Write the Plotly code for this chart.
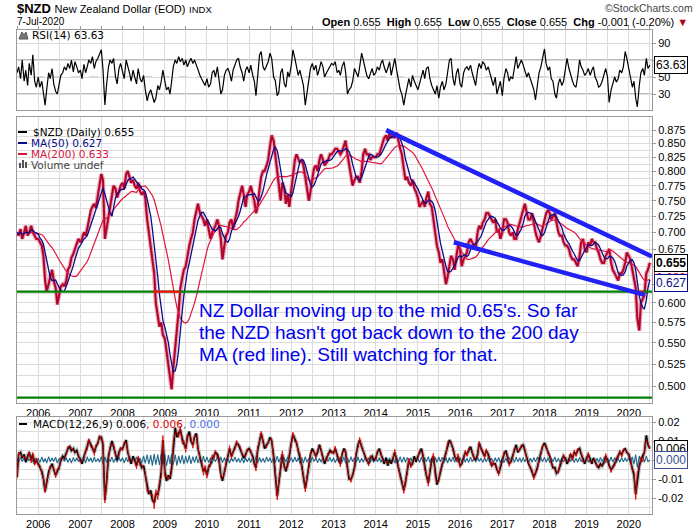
import numpy as np
import pandas as pd
import plotly.graph_objects as go

W, H = 700, 530

# ---------------- DATA (semi-monthly readings: 1st & 15th, Jul-2005 .. Jul-2020) ----------------
price_2005 = [0.700, 0.695, 0.705, 0.690, 0.700, 0.710, 0.695, 0.700, 0.710, 0.700, 0.695, 0.690]
price_2006 = [0.690, 0.685, 0.680, 0.665, 0.630, 0.615, 0.625, 0.635, 0.645, 0.630, 0.620, 0.598,
              0.612, 0.622, 0.625, 0.622, 0.630, 0.645, 0.650, 0.662, 0.668, 0.675, 0.685, 0.690]
price_2007 = [0.685, 0.690, 0.700, 0.695, 0.705, 0.720, 0.735, 0.740, 0.745, 0.738, 0.760, 0.775,
              0.795, 0.785, 0.690, 0.705, 0.725, 0.745, 0.760, 0.775, 0.770, 0.755, 0.765, 0.775]
price_2008 = [0.780, 0.770, 0.795, 0.800, 0.790, 0.780, 0.785, 0.775, 0.770, 0.780, 0.765, 0.760,
              0.765, 0.755, 0.720, 0.700, 0.685, 0.665, 0.640, 0.600, 0.585, 0.570, 0.575, 0.560]
price_2009 = [0.555, 0.540, 0.520, 0.505, 0.497, 0.520, 0.545, 0.560, 0.590, 0.620, 0.635, 0.645,
              0.650, 0.665, 0.680, 0.690, 0.700, 0.720, 0.735, 0.745, 0.730, 0.725, 0.720, 0.710]
price_2010 = [0.720, 0.705, 0.690, 0.700, 0.705, 0.710, 0.720, 0.710, 0.690, 0.660, 0.680, 0.695,
              0.700, 0.715, 0.720, 0.705, 0.720, 0.730, 0.750, 0.760, 0.775, 0.760, 0.740, 0.760]
price_2011 = [0.765, 0.775, 0.760, 0.750, 0.730, 0.740, 0.770, 0.790, 0.800, 0.800, 0.810, 0.820,
              0.845, 0.865, 0.855, 0.830, 0.790, 0.770, 0.750, 0.780, 0.770, 0.745, 0.760, 0.740]
price_2012 = [0.770, 0.800, 0.820, 0.830, 0.820, 0.815, 0.820, 0.810, 0.790, 0.770, 0.750, 0.765,
              0.790, 0.805, 0.810, 0.800, 0.820, 0.830, 0.820, 0.810, 0.815, 0.820, 0.830, 0.830]
price_2013 = [0.835, 0.840, 0.840, 0.835, 0.830, 0.835, 0.845, 0.855, 0.830, 0.810, 0.790, 0.775,
              0.785, 0.790, 0.790, 0.780, 0.800, 0.830, 0.840, 0.830, 0.830, 0.820, 0.825, 0.825]
price_2014 = [0.825, 0.830, 0.830, 0.840, 0.850, 0.860, 0.865, 0.855, 0.870, 0.860, 0.865, 0.860,
              0.870, 0.855, 0.840, 0.830, 0.800, 0.785, 0.790, 0.780, 0.775, 0.785, 0.770, 0.765]
price_2015 = [0.755, 0.740, 0.745, 0.750, 0.740, 0.755, 0.765, 0.745, 0.740, 0.720, 0.695, 0.680,
              0.670, 0.655, 0.660, 0.640, 0.625, 0.635, 0.650, 0.665, 0.660, 0.645, 0.665, 0.680]
price_2016 = [0.675, 0.650, 0.660, 0.665, 0.670, 0.685, 0.690, 0.685, 0.680, 0.675, 0.700, 0.710,
              0.705, 0.715, 0.720, 0.730, 0.730, 0.725, 0.720, 0.715, 0.720, 0.700, 0.705, 0.690]
price_2017 = [0.700, 0.720, 0.720, 0.715, 0.700, 0.695, 0.700, 0.690, 0.690, 0.705, 0.715, 0.725,
              0.735, 0.745, 0.730, 0.720, 0.720, 0.730, 0.715, 0.700, 0.690, 0.685, 0.695, 0.705]
price_2018 = [0.720, 0.730, 0.735, 0.730, 0.720, 0.725, 0.730, 0.715, 0.700, 0.695, 0.695, 0.685,
              0.680, 0.680, 0.675, 0.665, 0.660, 0.660, 0.655, 0.650, 0.665, 0.685, 0.690, 0.675]
price_2019 = [0.670, 0.685, 0.680, 0.690, 0.685, 0.685, 0.675, 0.670, 0.660, 0.655, 0.655, 0.665,
              0.670, 0.675, 0.655, 0.645, 0.640, 0.635, 0.630, 0.640, 0.640, 0.645, 0.655, 0.670]
price_2020 = [0.665, 0.660, 0.645, 0.635, 0.620, 0.580, 0.565, 0.600, 0.605, 0.610, 0.640, 0.645, 0.655]

rsi_2005 = [55, 62, 48, 70, 45, 58, 40, 66, 52, 76, 45, 38]
rsi_2006 = [50, 38, 45, 30, 17, 35, 55, 48, 60, 42, 33, 30, 45, 52, 55, 62, 58, 66, 60, 70, 56, 68, 62, 55]
rsi_2007 = [58, 48, 65, 55, 62, 70, 66, 74, 60, 68, 72, 78, 82, 60, 17, 40, 62, 70, 66, 72, 50, 42, 60, 66]
rsi_2008 = [55, 48, 70, 64, 55, 45, 58, 50, 42, 60, 48, 44, 52, 36, 22, 30, 35, 28, 20, 25, 40, 35, 45, 58]
rsi_2009 = [42, 35, 38, 30, 45, 62, 70, 66, 74, 68, 72, 64, 70, 62, 68, 72, 66, 70, 64, 58, 52, 48, 44, 40]
rsi_2010 = [48, 38, 42, 55, 58, 50, 62, 45, 30, 35, 52, 58, 60, 55, 45, 58, 64, 70, 72, 62, 55, 45, 58, 62]
rsi_2011 = [55, 64, 52, 45, 28, 48, 76, 80, 62, 58, 65, 68, 78, 72, 50, 46, 28, 32, 55, 60, 42, 38, 56, 50]
rsi_2012 = [64, 82, 72, 64, 52, 58, 48, 40, 17, 32, 45, 60, 66, 58, 64, 52, 60, 68, 62, 50, 55, 58, 62, 66]
rsi_2013 = [64, 68, 55, 58, 52, 62, 68, 56, 30, 35, 38, 45, 60, 55, 50, 62, 78, 70, 58, 52, 48, 55, 60, 52]
rsi_2014 = [55, 62, 58, 66, 70, 62, 55, 60, 68, 52, 64, 72, 58, 45, 35, 30, 17, 28, 40, 48, 38, 52, 45, 40]
rsi_2015 = [35, 42, 52, 58, 48, 60, 62, 48, 40, 35, 30, 40, 25, 38, 45, 35, 42, 55, 70, 72, 48, 40, 55, 60]
rsi_2016 = [42, 38, 55, 60, 62, 58, 64, 55, 45, 40, 58, 66, 60, 68, 65, 58, 62, 55, 45, 40, 50, 30, 38, 45]
rsi_2017 = [28, 48, 60, 55, 45, 50, 48, 62, 74, 60, 66, 70, 64, 58, 50, 55, 48, 40, 35, 23, 42, 55, 62, 70]
rsi_2018 = [83, 66, 58, 62, 48, 45, 30, 25, 42, 48, 40, 45, 58, 72, 60, 52, 45, 40, 38, 50, 70, 62, 58, 52]
rsi_2019 = [55, 60, 52, 58, 62, 50, 45, 38, 40, 45, 55, 60, 50, 20, 35, 42, 50, 44, 48, 58, 55, 62, 80, 72]
rsi_2020 = [62, 50, 38, 45, 25, 15, 40, 55, 60, 52, 72, 60, 64]

macd_2005 = [-0.009, 0.003, 0.004, 0.001, 0.003, -0.001, 0.002, 0.004, 0.000, 0.003, -0.002, 0.000]
macd_2006 = [-0.002, -0.004, -0.006, -0.010, -0.0165, -0.012, -0.006, -0.004, -0.002, -0.005, -0.008, -0.006,
             -0.004, 0.000, 0.002, 0.001, 0.004, 0.006, 0.007, 0.005, 0.006, 0.004, 0.005, 0.002]
macd_2007 = [0.000, -0.002, 0.002, 0.004, 0.007, 0.0105, 0.008, 0.006, 0.004, 0.007, 0.009, 0.012,
             0.012, 0.008, -0.021, -0.012, 0.002, 0.006, 0.010, 0.007, 0.003, 0.000, 0.004, 0.006]
macd_2008 = [0.006, 0.008, 0.0105, 0.004, 0.001, -0.002, 0.002, -0.001, -0.003, 0.001, -0.002, -0.004,
             -0.003, -0.008, -0.014, -0.018, -0.016, -0.021, -0.0225, -0.018, -0.018, -0.014, -0.006, 0.0105]
macd_2009 = [-0.006, -0.011, -0.008, -0.010, -0.004, 0.008, 0.017, 0.012, 0.014, 0.016, 0.011, 0.008,
             0.006, 0.012, 0.015, 0.010, 0.008, 0.012, 0.014, 0.006, 0.002, -0.002, -0.006, -0.004]
macd_2010 = [-0.008, -0.004, -0.002, 0.001, 0.002, 0.004, 0.003, 0.000, -0.008, -0.011, -0.006, -0.002,
             0.003, 0.006, 0.002, 0.004, 0.007, 0.009, 0.008, 0.006, 0.004, 0.001, 0.003, 0.005]
macd_2011 = [0.006, 0.004, 0.002, -0.002, -0.004, 0.005, 0.011, 0.014, 0.010, 0.006, 0.008, 0.009,
             0.012, 0.010, 0.002, -0.006, -0.019, -0.012, -0.004, 0.003, -0.003, -0.006, -0.002, 0.002]
macd_2012 = [0.009, 0.0135, 0.011, 0.009, 0.005, 0.002, -0.003, -0.009, -0.015, -0.010, -0.003, 0.003,
             0.006, 0.004, 0.002, 0.004, 0.008, 0.005, 0.001, -0.002, 0.001, 0.003, 0.005, 0.004]
macd_2013 = [0.004, 0.006, 0.002, 0.000, -0.002, 0.003, 0.006, 0.004, -0.004, -0.010, -0.010, -0.008,
             -0.004, 0.003, 0.008, 0.0105, 0.007, 0.004, 0.002, 0.000, -0.002, 0.001, 0.002, 0.000]
macd_2014 = [0.001, 0.004, 0.006, 0.003, 0.001, -0.002, 0.001, -0.003, 0.000, -0.002, 0.002, 0.004,
             0.000, -0.004, -0.008, -0.012, -0.016, -0.012, -0.006, 0.000, -0.003, -0.002, 0.002, -0.001]
macd_2015 = [0.002, 0.004, 0.006, 0.002, -0.004, -0.008, -0.012, -0.006, 0.000, 0.002, -0.008, -0.013,
             -0.010, -0.006, -0.002, 0.000, 0.004, 0.008, 0.0105, 0.009, 0.006, 0.002, 0.000, 0.002]
macd_2016 = [-0.003, -0.002, 0.002, 0.004, 0.003, 0.005, 0.007, 0.004, 0.001, 0.000, 0.003, 0.009,
             0.006, 0.004, 0.002, 0.005, 0.003, 0.000, -0.003, -0.002, -0.002, -0.005, -0.007, -0.004]
macd_2017 = [0.000, 0.003, 0.005, 0.002, -0.002, -0.001, 0.002, 0.005, 0.008, 0.004, 0.006, 0.007,
             0.008, 0.005, 0.001, -0.002, -0.004, -0.006, -0.009, -0.007, -0.004, 0.000, 0.004, 0.007]
macd_2018 = [0.009, 0.007, 0.004, 0.002, -0.001, -0.004, -0.004, -0.007, -0.006, -0.003, 0.000, 0.002,
             0.001, -0.002, 0.000, 0.003, 0.001, 0.004, 0.003, 0.005, 0.006, 0.003, 0.000, -0.002]
macd_2019 = [0.001, 0.003, 0.000, -0.002, 0.001, -0.001, -0.003, -0.004, -0.002, -0.003, -0.001, 0.002,
             0.000, -0.003, -0.005, -0.004, -0.002, 0.000, 0.002, 0.004, 0.003, 0.005, 0.006, 0.004]
macd_2020 = [0.003, 0.000, -0.004, -0.008, -0.018, -0.010, -0.003, 0.000, 0.002, 0.004, 0.013, 0.008, 0.006]

# MACD histogram readings, in units of 0.0001
hist_2005 = [8, -12, 14, -8, 10, -14, 12, -6, 16, -10, 8, -12]
hist_2006 = [10, -14, 16, -12, 8, -16, 18, -10, 12, -8, 14, -16, 10, -12, 16, -8, 12, -14, 10, -16, 14, -8, 12, -10]
hist_2007 = [14, -12, 10, -16, 18, -8, 12, -14, 16, -10, 8, -12, 18, -22, 16, -12, 14, -10, 16, -14, 10, -12, 18, -8]
hist_2008 = [12, -16, 14, -10, 18, -14, 12, -8, 16, -12, 10, -18, 22, -18, 28, -22, 26, -30, 32, -24, 28, -26, 32, -24]
hist_2009 = [30, -32, 26, -20, 32, -24, 28, -30, 22, -18, 26, -22, 20, -16, 24, -20, 18, -14, 22, -16, 14, -18, 20, -12]
hist_2010 = [16, -14, 12, -18, 14, -10, 18, -12, 16, -14, 12, -10, 14, -16, 12, -8, 16, -12, 10, -14, 12, -16, 14, -10]
hist_2011 = [12, -14, 16, -10, 18, -16, 14, -12, 10, -14, 16, -8, 12, -14, 18, -16, 20, -12, 14, -18, 12, -10, 16, -14]
hist_2012 = [14, -12, 16, -10, 12, -18, 14, -16, 18, -12, 10, -14, 16, -8, 12, -14, 10, -12, 14, -16, 12, -8, 14, -10]
hist_2013 = [12, -14, 10, -12, 16, -10, 14, -16, 12, -14, 18, -10, 14, -12, 16, -14, 10, -12, 14, -8, 12, -14, 10, -12]
hist_2014 = [14, -10, 12, -14, 10, -12, 16, -8, 12, -14, 10, -16, 14, -12, 18, -14, 16, -12, 14, -10, 12, -14, 16, -10]
hist_2015 = [12, -14, 16, -12, 14, -10, 18, -14, 12, -16, 14, -12, 16, -10, 14, -12, 12, -16, 14, -10, 16, -12, 10, -14]
hist_2016 = [12, -10, 14, -12, 10, -14, 16, -10, 12, -12, 14, -8, 10, -14, 12, -10, 14, -12, 10, -14, 12, -10, 14, -16]
hist_2017 = [12, -14, 10, -12, 14, -10, 12, -14, 16, -10, 12, -12, 14, -10, 12, -14, 10, -12, 14, -10, 16, -12, 12, -10]
hist_2018 = [14, -12, 10, -14, 12, -10, 16, -12, 10, -14, 12, -10, 14, -12, 10, -8, 12, -14, 10, -12, 14, -10, 12, -14]
hist_2019 = [10, -12, 14, -10, 12, -14, 10, -12, 14, -8, 12, -14, 10, -12, 16, -10, 12, -14, 10, -12, 14, -10, 12, -8]
hist_2020 = [14, -12, 16, -22, 28, -40, 22, -16, 30, -12, 22, -10, 0]

# user-drawn annotation lines on the price panel
support_level = 0.615
floor_level = 0.488
breach_starts = ['2008-09-20', '2020-02-25']
breach_ends = ['2009-05-10', '2020-05-05']
trend_upper_dates = ['2014-04-01', '2020-07-20']
trend_upper_vals = [0.875, 0.664]
trend_lower_dates = ['2015-11-08', '2020-05-18']
trend_lower_vals = [0.685, 0.6106]

price_ticks = [0.500, 0.525, 0.550, 0.575, 0.600, 0.625, 0.650, 0.675, 0.700,
               0.725, 0.750, 0.775, 0.800, 0.825, 0.850, 0.875]
price_ticks_hidden = [0.625, 0.650]
rsi_ticks = [30, 50, 70, 90]
macd_ticks = [-0.02, -0.01, 0.0, 0.01, 0.02]
macd_tick_text = ['-0.02', '-0.01', '', '0.01', '0.02']

symbol, sym_name, exch, date_label = '$NZD', 'New Zealand Dollar (EOD)', 'INDX', '7-Jul-2020'
quote_open, quote_high, quote_low, quote_close = '0.655', '0.655', '0.655', '0.655'
quote_chg = '-0.001 (-0.20%)'
last_close, ma50_last, ma200_last = 0.655, 0.627, 0.633
rsi_last = 63.63
macd_last, signal_last, hist_last = 0.006, 0.006, 0.000

note_lines = ["NZ Dollar moving up to the mid 0.65's. So far",
              "the NZD hasn't got back down to the 200 day",
              "MA (red line). Still watching for that."]

# ---------------- assemble ----------------
def cat(*segs):
    out = []
    for s in segs:
        out += s
    return out

price = cat(price_2005, price_2006, price_2007, price_2008, price_2009, price_2010, price_2011, price_2012,
            price_2013, price_2014, price_2015, price_2016, price_2017, price_2018, price_2019, price_2020)
rsi = cat(rsi_2005, rsi_2006, rsi_2007, rsi_2008, rsi_2009, rsi_2010, rsi_2011, rsi_2012,
          rsi_2013, rsi_2014, rsi_2015, rsi_2016, rsi_2017, rsi_2018, rsi_2019, rsi_2020)
macd = cat(macd_2005, macd_2006, macd_2007, macd_2008, macd_2009, macd_2010, macd_2011, macd_2012,
           macd_2013, macd_2014, macd_2015, macd_2016, macd_2017, macd_2018, macd_2019, macd_2020)
hist_e4 = cat(hist_2005, hist_2006, hist_2007, hist_2008, hist_2009, hist_2010, hist_2011, hist_2012,
              hist_2013, hist_2014, hist_2015, hist_2016, hist_2017, hist_2018, hist_2019, hist_2020)
n = len(price)
assert len(rsi) == n and len(macd) == n and len(hist_e4) == n, (n, len(rsi), len(macd), len(hist_e4))

dates = pd.date_range('2005-07-01', periods=n, freq='SMS')
ps = pd.Series(price)
ma50 = ps.rolling(5, min_periods=1).mean()     # ~50 trading days
ma200 = ps.rolling(19, min_periods=1).mean()   # ~200 trading days
hist = np.array(hist_e4) / 1e4
macd = np.array(macd)
signal = macd - hist

X0, X1 = '2005-07-01', '2020-07-20'
XD = [17 / W, 652 / W]


def ydom(top, bottom):
    return [1 - bottom / H, 1 - top / H]


GRID = '#dcdcdc'
BORDER = '#9a9a9a'
AXF = 'Liberation Sans, Arial, sans-serif'
HEADF = 'Liberation Sans, Arial, sans-serif'
LEGF = 'DejaVu Sans, Verdana, sans-serif'
tickfont = dict(family=AXF, size=11, color='black')

fig = go.Figure()

# RSI panel
fig.add_trace(go.Scatter(x=dates, y=rsi, mode='lines', line=dict(color='black', width=1.2),
                         xaxis='x', yaxis='y', hoverinfo='skip'))

# price panel
fig.add_trace(go.Scatter(x=dates, y=price, mode='lines', line=dict(color='#e6b3bf', width=4.5),
                         xaxis='x2', yaxis='y2', hoverinfo='skip'))
fig.add_trace(go.Scatter(x=dates, y=price, mode='lines', line=dict(color='#cc0a36', width=2.2),
                         xaxis='x2', yaxis='y2'))
fig.add_trace(go.Scatter(x=dates, y=price, mode='lines', line=dict(color='black', width=0.7),
                         opacity=0.3, xaxis='x2', yaxis='y2', hoverinfo='skip'))
fig.add_trace(go.Scatter(x=dates, y=ma200, mode='lines', line=dict(color='#e0153f', width=1.2),
                         xaxis='x2', yaxis='y2'))
fig.add_trace(go.Scatter(x=dates, y=ma50, mode='lines', line=dict(color='#0b0b8c', width=1.3),
                         xaxis='x2', yaxis='y2'))
for lvl in (support_level, floor_level):
    fig.add_trace(go.Scatter(x=[X0, X1], y=[lvl, lvl], mode='lines',
                             line=dict(color='#008000', width=2.2), xaxis='x2', yaxis='y2'))
for s, e in zip(breach_starts, breach_ends):
    fig.add_trace(go.Scatter(x=[s, e], y=[support_level, support_level], mode='lines',
                             line=dict(color='#ff1010', width=2.2), xaxis='x2', yaxis='y2'))
fig.add_trace(go.Scatter(x=trend_upper_dates, y=trend_upper_vals, mode='lines',
                         line=dict(color='#2121f5', width=4.5), xaxis='x2', yaxis='y2'))
fig.add_trace(go.Scatter(x=trend_lower_dates, y=trend_lower_vals, mode='lines',
                         line=dict(color='#2121f5', width=4.5), xaxis='x2', yaxis='y2'))

# MACD panel
fig.add_trace(go.Scatter(x=dates, y=macd, mode='lines', line=dict(color='#bdbdbd', width=4),
                         xaxis='x3', yaxis='y3', hoverinfo='skip'))
fig.add_trace(go.Scatter(x=dates, y=hist, mode='lines', line=dict(color='#23698c', width=1.1),
                         xaxis='x3', yaxis='y3'))
fig.add_trace(go.Scatter(x=dates, y=macd, mode='lines', line=dict(color='black', width=1.6),
                         xaxis='x3', yaxis='y3'))
fig.add_trace(go.Scatter(x=dates, y=signal, mode='lines', line=dict(color='#e00000', width=0.9),
                         xaxis='x3', yaxis='y3'))

xcommon = dict(type='date', range=[X0, X1], domain=XD, showline=True, linecolor=BORDER, mirror=True,
               zeroline=False, showgrid=True, gridcolor=GRID, tickfont=tickfont, fixedrange=True)
ycommon = dict(side='right', showline=True, linecolor=BORDER, mirror=True, zeroline=False, showgrid=True,
               gridcolor=GRID, ticks='outside', ticklen=3, tickcolor=BORDER, tickfont=tickfont)

mids = [(a + b) / 2 for a, b in zip(price_ticks[:-1], price_ticks[1:])]
price_text = ['' if t in price_ticks_hidden else f'{t:.3f}' for t in price_ticks]

fig.update_layout(
    width=W, height=H, margin=dict(l=0, r=0, t=0, b=0),
    paper_bgcolor='white', plot_bgcolor='white', showlegend=False,
    xaxis=dict(xcommon, anchor='y', tick0='2006-01-01', dtick='M6', ticks='outside', ticklen=3,
               tickcolor=BORDER, showticklabels=False, side='top'),
    xaxis2=dict(xcommon, anchor='y2', tick0='2006-01-01', dtick='M12', tickformat='%Y', ticks='',
                minor=dict(tick0='2006-01-01', dtick='M6', showgrid=True, gridcolor=GRID)),
    xaxis3=dict(xcommon, anchor='y3', tick0='2006-01-01', dtick='M12', tickformat='%Y', ticks='',
                minor=dict(tick0='2006-01-01', dtick='M6', showgrid=True, gridcolor=GRID)),
    yaxis=dict(ycommon, domain=ydom(30, 110), anchor='x', range=[11.2, 105.3],
               tickvals=rsi_ticks, ticktext=[str(t) for t in rsi_ticks]),
    yaxis2=dict(ycommon, domain=ydom(117, 403), anchor='x2', type='log',
                range=[np.log10(0.4823), np.log10(0.9004)],
                tickvals=price_ticks, ticktext=price_text,
                minor=dict(tickvals=mids, showgrid=True, gridcolor=GRID, ticks='')),
    yaxis3=dict(ycommon, domain=ydom(417, 514), anchor='x3', range=[-0.02842, 0.02263],
                tickvals=macd_ticks, ticktext=macd_tick_text,
                minor=dict(tick0=0, dtick=0.005, showgrid=True, gridcolor=GRID, ticks='')),
)

# RSI reference lines
shapes = []
for lvl, col, dash in ((70, '#7a7a7a', 'solid'), (30, '#7a7a7a', 'solid'), (50, '#a8a8a8', 'dash')):
    shapes.append(dict(type='line', xref='x domain', yref='y', x0=0, x1=1, y0=lvl, y1=lvl,
                       line=dict(color=col, width=1, dash=dash), layer='below'))


def pline(x0, x1, y, color, width=2):
    return dict(type='line', xref='paper', yref='paper', x0=x0 / W, x1=x1 / W, y0=1 - y / H, y1=1 - y / H,
                line=dict(color=color, width=width))


def prect(x0, y0, x1, y1, color):
    return dict(type='rect', xref='paper', yref='paper', x0=x0 / W, x1=x1 / W, y0=1 - y1 / H, y1=1 - y0 / H,
                fillcolor=color, line=dict(width=0))


shapes += [pline(18, 27, 132, 'black'), pline(18, 27, 143, '#0b0b8c'), pline(18, 27, 154, '#dc143c'),
           pline(19, 27, 424, 'black'),
           prect(19, 163, 21, 168, '#555'), prect(22, 160, 24, 168, '#555'), prect(25, 162, 27, 168, '#555'),
           dict(type='path', xref='paper', yref='paper', fillcolor='#777', line=dict(color='#555', width=1),
                path='M {:.4f},{:.4f} L {:.4f},{:.4f} L {:.4f},{:.4f} L {:.4f},{:.4f} L {:.4f},{:.4f} Z'.format(
                    19 / W, 1 - 39 / H, 22 / W, 1 - 32 / H, 24 / W, 1 - 35 / H, 26 / W, 1 - 32 / H, 28 / W, 1 - 39 / H))]
fig.update_layout(shapes=shapes)

ann = []


def A(text, x, y, size, color='black', family=LEGF, xanchor='left', **kw):
    ann.append(dict(text=text, x=x / W, y=1 - y / H, xref='paper', yref='paper', showarrow=False,
                    xanchor=xanchor, yanchor='middle', font=dict(family=family, size=size, color=color), **kw))


# header
A(f"<b>{symbol}</b> <span style='font-size:11px'>{sym_name}</span> "
  f"<span style='font-size:9.5px'>{exch}</span>", 15, 9, 13, family=HEADF)
A(date_label, 15, 22, 10, family=HEADF)
A(f"<b>Open</b> {quote_open}  <b>High</b> {quote_high}  <b>Low</b> {quote_low}  "
  f"<b>Close</b> {quote_close}  <b>Chg</b> {quote_chg} <span style='color:#b00020'>▼</span>",
  690, 22, 11, family=HEADF, xanchor='right')
A("©StockCharts.com", 695, 8, 10.5, color='#444', family=HEADF, xanchor='right')

# legends
A(f"RSI(14) {rsi_last:.2f}", 30, 35, 10.5)
A(f"{symbol} (Daily) {last_close:.3f}", 31, 132, 10.5)
A(f"MA(50) {ma50_last:.3f}", 29, 143, 10.5, color='#0b0b8c')
A(f"MA(200) {ma200_last:.3f}", 29, 154, 10.5, color='#dc143c')
A("Volume undef", 29, 165, 10.5, color='#444')
A(f"MACD(12,26,9) {macd_last:.3f}<span style='color:#e00000'>, {signal_last:.3f}</span>"
  f"<span style='color:#4a6fe8'>, {hist_last:.3f}</span>", 31, 424, 10.5)

# annotation text
for i, line in enumerate(note_lines):
    A(line, 197, 310 + 22 * i, 19, color='#0000ee', family=AXF)

fig.update_layout(annotations=ann)

# value tags on the right axis
def tag(text, yref, yval, color, bold=False):
    fig.add_annotation(text=f"<b>{text}</b>" if bold else text, xref='paper', x=654 / W, yref=yref, y=yval,
                       xanchor='left', yanchor='middle', showarrow=False, bgcolor='white',
                       bordercolor=color, borderwidth=1, borderpad=1,
                       font=dict(family=AXF, size=12, color=color if not bold else 'black'))


tag(f"{rsi_last:.2f}", 'y', rsi_last, 'black')
tag(f"{ma200_last:.3f}", 'y2', np.log10(ma200_last), '#dc143c')
tag(f"{ma50_last:.3f}", 'y2', np.log10(ma50_last), '#0b0b8c')
tag(f"{last_close:.3f}", 'y2', np.log10(last_close), 'black', bold=True)
tag(f"{macd_last:.3f}", 'y3', macd_last, 'black')
tag(f"{hist_last:.3f}", 'y3', hist_last, '#3b4f8f')

fig.write_html("out.html")
